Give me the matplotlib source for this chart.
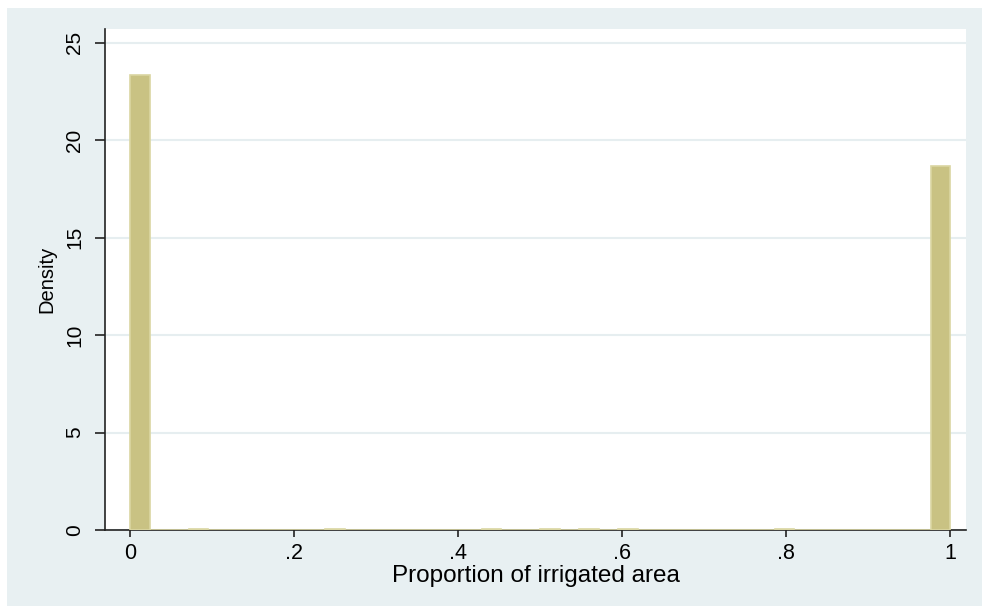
import matplotlib

matplotlib.use("Agg")
import matplotlib.pyplot as plt
import numpy as np
from matplotlib.patches import Rectangle

# histogram of the irrigated-area share, 42 equal bins over [0, 1]
n_bins = 42
bin_density = [0.0] * n_bins
bin_density[0] = 23.33
bin_density[-1] = 18.67
for i in (3, 10, 18, 21, 23, 25, 33):
    bin_density[i] = 0.05

x_ticks = [0, 0.2, 0.4, 0.6, 0.8, 1.0]
x_tick_labels = ["0", ".2", ".4", ".6", ".8", "1"]
y_ticks = [0, 5, 10, 15, 20, 25]

plt.rcParams["font.family"] = ["Liberation Sans", "DejaVu Sans"]

fig = plt.figure(figsize=(9.82, 6.06), dpi=100)
fig.patch.set_facecolor("white")
fig.add_artist(
    Rectangle((7 / 982, 0), 1, 1 - 8 / 606, transform=fig.transFigure,
              facecolor="#e8f0f2", edgecolor="none", zorder=-10)
)

ax = fig.add_axes([0.1069, 0.1254, 0.8768, 0.8266])
ax.set_facecolor("white")

edges = np.linspace(0, 1, n_bins + 1)
ax.bar(edges[:-1], bin_density, width=np.diff(edges), align="edge",
       color="#c9c283", edgecolor="#dad6a2", linewidth=1.2, zorder=3)

ax.set_xlim(-0.0305, 1.019)
ax.set_ylim(0, 25.7)
ax.set_yticks(y_ticks)
ax.set_yticklabels([str(v) for v in y_ticks], rotation=90, va="center")
ax.set_xticks(x_ticks, x_tick_labels)
ax.grid(axis="y", color="#e6eef0", linewidth=1.5, zorder=1)
ax.set_axisbelow(True)

for side in ("top", "right"):
    ax.spines[side].set_visible(False)
for side in ("left", "bottom"):
    ax.spines[side].set_color("#222222")
    ax.spines[side].set_linewidth(1.2)

ax.tick_params(axis="y", length=7, width=1.2, pad=8, labelsize=15, color="#222222")
ax.tick_params(axis="x", length=5, width=1.2, pad=4, labelsize=15.5, color="#222222")

ax.set_ylabel("Density", fontsize=14.5, labelpad=6)
ax.set_xlabel("Proportion of irrigated area", fontsize=17.5, labelpad=1)

fig.savefig("out.png", dpi=100)
